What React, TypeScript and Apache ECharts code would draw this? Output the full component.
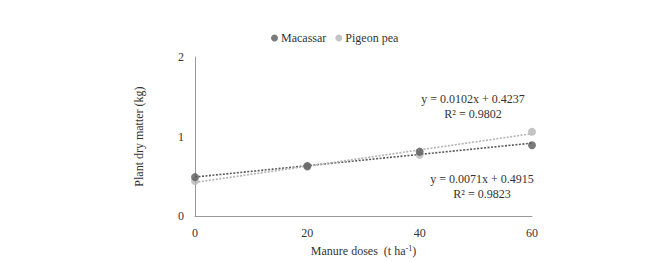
import React, { useEffect, useRef } from "react";
import * as echarts from "echarts";

const doses = [0, 20, 40, 60];
const macassar = [0.49, 0.63, 0.81, 0.89];
const pigeonPea = [0.44, 0.62, 0.77, 1.06];
const macassarFit = { slope: 0.0071, intercept: 0.4915, r2: "0.9823" };
const pigeonFit = { slope: 0.0102, intercept: 0.4237, r2: "0.9802" };
const xTicks = [0, 60, 20];
const yTicks = [0, 2, 1];

const FONT = "Liberation Serif";
const DARK = "#5a5a5a";
const LIGHT = "#b5b5b5";

export default function App() {
  const ref = useRef<HTMLDivElement>(null);
  useEffect(() => {
    if (!ref.current) return;
    const chart = echarts.init(ref.current, undefined, { renderer: "svg" });
    const fitLine = (f: { slope: number; intercept: number }) =>
      [xTicks[0], xTicks[1]].map((x) => [x, f.slope * x + f.intercept]);
    chart.setOption({
      animation: false,
      backgroundColor: "#ffffff",
      textStyle: { fontFamily: FONT },
      legend: {
        data: ["Macassar", "Pigeon pea"],
        left: 266,
        top: 27,
        icon: "circle",
        itemWidth: 7,
        itemHeight: 7,
        itemGap: 9,
        textStyle: { fontFamily: FONT, fontSize: 12, color: "#333", padding: [0, 0, 0, -2] },
      },
      grid: { left: 195, right: 140, top: 57, bottom: 39, containLabel: false },
      xAxis: {
        type: "value",
        min: xTicks[0],
        max: xTicks[1],
        interval: xTicks[2],
        splitLine: { show: false },
        axisTick: { show: false },
        axisLine: { lineStyle: { color: "#999", width: 1 } },
        axisLabel: { color: "#333", fontSize: 12, margin: 11, fontFamily: FONT },
        name: "{a|Manure doses  (t ha}{s|-1}{a|)}",
        nameLocation: "middle",
        nameGap: 25,
        nameTextStyle: {
          fontFamily: FONT,
          rich: {
            a: { fontFamily: FONT, fontSize: 12, color: "#333" },
            s: { fontFamily: FONT, fontSize: 8, color: "#333", verticalAlign: "top", padding: [0, 0, 6, 0] },
          },
        },
      },
      yAxis: {
        type: "value",
        min: yTicks[0],
        max: yTicks[1],
        interval: yTicks[2],
        splitLine: { show: false },
        axisTick: { show: false },
        axisLine: { show: true, lineStyle: { color: "#999", width: 1 } },
        axisLabel: { color: "#333", fontSize: 12, margin: 11, fontFamily: FONT },
        name: "Plant dry matter (kg)",
        nameLocation: "middle",
        nameGap: 50,
        nameTextStyle: { fontFamily: FONT, fontSize: 12, color: "#333" },
      },
      series: [
        {
          name: "Macassar trend",
          type: "line",
          data: fitLine(macassarFit),
          symbol: "none",
          lineStyle: { color: DARK, width: 1.6, type: [2, 1.5] },
          z: 1,
        },
        {
          name: "Pigeon pea trend",
          type: "line",
          data: fitLine(pigeonFit),
          symbol: "none",
          lineStyle: { color: LIGHT, width: 1.6, type: [2, 1.5] },
          z: 1,
        },
        {
          name: "Macassar",
          type: "scatter",
          data: doses.map((d, i) => [d, macassar[i]]),
          symbol: "circle",
          symbolSize: 8,
          itemStyle: { color: DARK },
          z: 3,
        },
        {
          name: "Pigeon pea",
          type: "scatter",
          data: doses.map((d, i) => [d, pigeonPea[i]]),
          symbol: "circle",
          symbolSize: 8,
          itemStyle: { color: LIGHT },
          z: 2,
        },
      ],
      graphic: [
        {
          type: "text",
          x: 473,
          y: 106,
          style: {
            text: `y = ${pigeonFit.slope}x + ${pigeonFit.intercept}\nR² = ${pigeonFit.r2}`,
            fontFamily: FONT,
            fontSize: 12,
            fill: "#333",
            align: "center",
            verticalAlign: "middle",
            lineHeight: 15,
          },
        },
        {
          type: "text",
          x: 482,
          y: 186,
          style: {
            text: `y = ${macassarFit.slope}x + ${macassarFit.intercept}\nR² = ${macassarFit.r2}`,
            fontFamily: FONT,
            fontSize: 12,
            fill: "#333",
            align: "center",
            verticalAlign: "middle",
            lineHeight: 15,
          },
        },
      ],
    });
    return () => chart.dispose();
  }, []);
  return (
    <div
      ref={ref}
      style={{ position: "fixed", left: 0, top: 0, width: 672, height: 262 }}
    />
  );
}
